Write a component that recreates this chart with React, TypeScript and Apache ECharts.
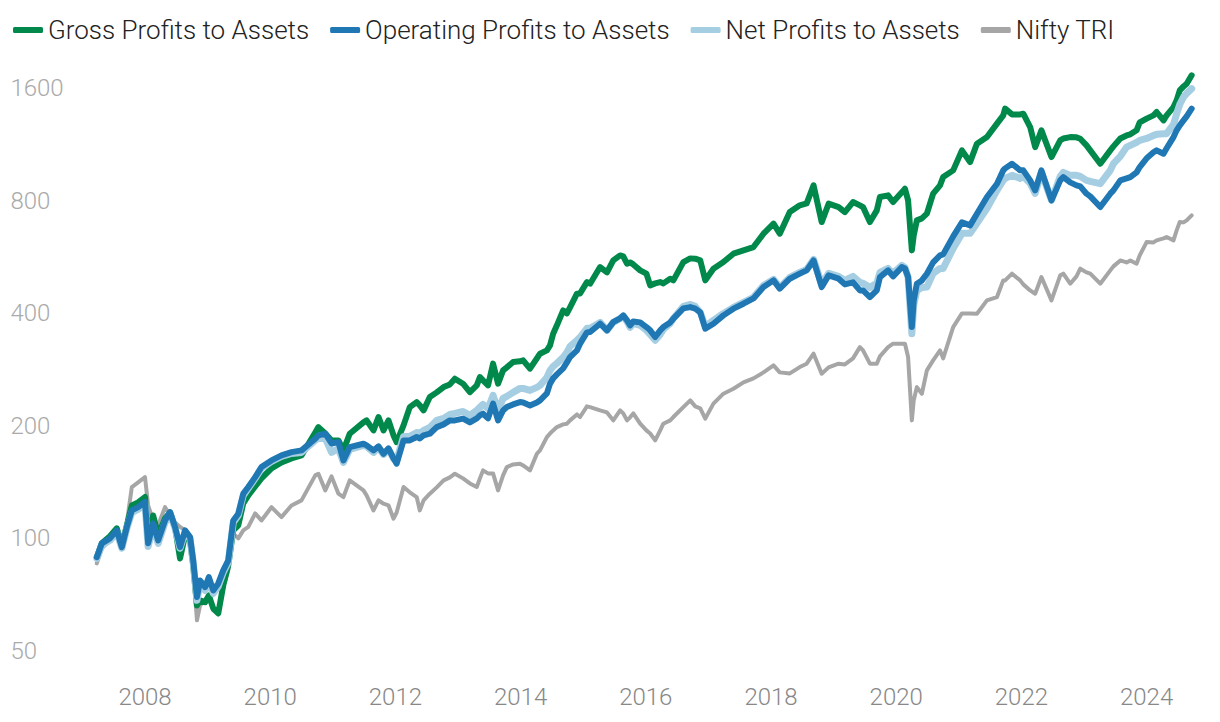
import React, { useEffect, useRef } from "react";
import * as echarts from "echarts";

const years = [2007.23, 2007.31, 2007.44, 2007.55, 2007.63, 2007.71, 2007.79, 2007.89, 2008.00, 2008.05, 2008.13, 2008.21, 2008.32, 2008.40, 2008.48, 2008.56, 2008.64, 2008.72, 2008.77, 2008.83, 2008.88, 2008.96, 2009.02, 2009.09, 2009.17, 2009.25, 2009.33, 2009.41, 2009.49, 2009.57, 2009.65, 2009.76, 2009.86, 2010.02, 2010.18, 2010.34, 2010.50, 2010.72, 2010.77, 2010.88, 2010.98, 2011.09, 2011.17, 2011.27, 2011.49, 2011.54, 2011.65, 2011.73, 2011.81, 2011.89, 2011.97, 2012.02, 2012.13, 2012.23, 2012.34, 2012.39, 2012.45, 2012.55, 2012.66, 2012.77, 2012.87, 2012.95, 2013.08, 2013.19, 2013.30, 2013.35, 2013.40, 2013.48, 2013.56, 2013.64, 2013.72, 2013.78, 2013.88, 2013.99, 2014.04, 2014.15, 2014.26, 2014.31, 2014.42, 2014.47, 2014.52, 2014.58, 2014.68, 2014.74, 2014.79, 2014.90, 2014.95, 2015.06, 2015.11, 2015.27, 2015.38, 2015.48, 2015.59, 2015.64, 2015.70, 2015.75, 2015.80, 2015.91, 2016.01, 2016.07, 2016.15, 2016.23, 2016.28, 2016.39, 2016.44, 2016.60, 2016.71, 2016.79, 2016.87, 2016.95, 2017.08, 2017.24, 2017.40, 2017.56, 2017.72, 2017.88, 2018.04, 2018.14, 2018.30, 2018.46, 2018.57, 2018.68, 2018.81, 2018.92, 2019.08, 2019.18, 2019.31, 2019.42, 2019.47, 2019.58, 2019.69, 2019.74, 2019.87, 2019.95, 2020.09, 2020.14, 2020.19, 2020.25, 2020.28, 2020.33, 2020.41, 2020.49, 2020.59, 2020.70, 2020.75, 2020.91, 2021.05, 2021.18, 2021.29, 2021.45, 2021.61, 2021.71, 2021.74, 2021.85, 2021.98, 2022.03, 2022.14, 2022.22, 2022.32, 2022.48, 2022.62, 2022.67, 2022.78, 2022.88, 2022.94, 2023.04, 2023.10, 2023.26, 2023.42, 2023.47, 2023.58, 2023.68, 2023.74, 2023.84, 2023.89, 2024.00, 2024.11, 2024.16, 2024.27, 2024.32, 2024.43, 2024.48, 2024.53, 2024.59, 2024.64, 2024.72];

const gross = [
  89.1, 97.0, 101.3, 106.4, 95.8, 108.4, 122.5, 124.8, 129.0, 98.8,
  115.2, 101.9, 113.1, 117.3, 107.1, 88.4, 101.9, 98.8, 84.7, 66.2,
  68.3, 67.5, 70.4, 65.0, 63.0, 74.9, 84.7, 105.1, 108.4, 124.1,
  130.3, 137.8, 144.7, 153.9, 159.6, 163.6, 166.7, 192.0, 198.4, 190.8,
  182.8, 182.8, 171.9, 190.5, 204.3, 206.8, 194.4, 211.1, 194.4, 206.8,
  188.5, 180.9, 200.5, 224.4, 231.5, 226.8, 219.9, 238.7, 245.7, 253.8,
  258.1, 267.3, 259.2, 246.1, 256.5, 270.0, 264.5, 256.5, 293.2, 259.2,
  281.3, 286.6, 296.1, 297.4, 299.2, 284.3, 302.9, 311.8, 318.2, 328.2,
  352.6, 371.2, 407.0, 399.5, 414.6, 451.0, 451.9, 484.5, 479.7, 531.4,
  514.3, 553.7, 571.0, 567.5, 542.5, 546.9, 540.2, 520.7, 510.2, 474.7,
  480.6, 484.5, 480.6, 494.7, 489.6, 548.0, 560.6, 559.5, 553.7, 489.6,
  526.2, 548.0, 577.0, 588.9, 601.0, 652.6, 694.1, 652.6, 745.6, 777.0,
  786.5, 878.8, 701.0, 785.0, 768.9, 745.6, 792.9, 777.0, 768.9, 701.0,
  753.4, 817.7, 826.3, 792.9, 841.7, 861.0, 801.2, 588.9, 645.9, 708.4,
  717.2, 738.2, 834.9, 878.8, 924.9, 963.7, 1090, 1014, 1136, 1183,
  1285, 1352, 1409, 1360, 1360, 1366, 1258, 1112, 1233, 1046,
  1159, 1173, 1183, 1181, 1171, 1124, 1090, 1004, 1090, 1117,
  1173, 1195, 1203, 1233, 1295, 1325, 1352, 1380, 1311, 1352,
  1423, 1483, 1577, 1616, 1643, 1730,
];

const operating = [
  89.1, 97.0, 100, 105.1, 94.8, 107.3, 118.8, 121.2, 125.1, 97.0,
  109.7, 98.8, 111.7, 117.6, 107.3, 94.8, 105.1, 100.8, 87.3, 69.7,
  77.2, 74.1, 78.8, 72.6, 75.8, 82.1, 87.3, 111.7, 116.4, 131.7,
  137.2, 145.8, 155.1, 161.6, 166.7, 170.1, 171.9, 184.7, 188.5, 190.5,
  179.4, 180.9, 161.6, 175.4, 179.1, 177.3, 171.9, 176.2, 168.4, 174.0,
  163.6, 158.4, 182.8, 182.8, 186.6, 185.1, 188.5, 190.5, 198.4, 201.8,
  206.8, 206.8, 209.0, 204.3, 209.4, 213.3, 215.5, 209.4, 229.2, 206.8,
  219.9, 224.4, 228.2, 231.5, 231.0, 226.8, 231.0, 233.9, 244.1, 259.2,
  267.8, 274.4, 284.8, 295.5, 305.4, 318.2, 331.6, 355.5, 356.2, 375.0,
  359.9, 378.7, 387.4, 394.7, 382.7, 371.2, 380.3, 378.0, 367.3, 359.9,
  345.4, 359.9, 367.3, 378.0, 386.7, 412.0, 415.4, 411.3, 402.0, 363.7,
  375.0, 394.7, 411.3, 424.1, 438.2, 469.8, 489.6, 465.2, 494.7, 510.2,
  520.7, 553.7, 469.8, 504.9, 494.7, 477.7, 483.6, 460.3, 460.3, 441.8,
  460.3, 499.7, 520.7, 501.8, 531.4, 527.1, 499.7, 367.3, 432.9, 479.7,
  489.6, 510.2, 546.9, 571.0, 574.5, 642.0, 699.7, 686.9, 738.2, 817.7,
  887.9, 963.7, 975.7, 1004, 963.7, 963.7, 906.2, 852.1, 963.7, 801.2,
  906.2, 924.9, 895.1, 878.8, 873.4, 834.9, 821.2, 768.9, 834.9, 852.1,
  906.2, 917.4, 924.9, 951.9, 983.6, 1038, 1077, 1090, 1068, 1104,
  1183, 1233, 1271, 1311, 1344, 1409,
];

const net = [
  88.4, 95.8, 98.8, 103.8, 94.1, 106.4, 117.3, 119.5, 123.3, 95.2,
  107.7, 97.0, 110.3, 116.6, 106.4, 94.1, 103.8, 100, 86.2, 68.3,
  75.8, 72.6, 77.2, 71.3, 74.4, 81.1, 86.2, 110.3, 115.2, 130.3,
  136.1, 144.7, 153.9, 160.6, 165.7, 168.7, 169.8, 182.8, 185.1, 185.1,
  169.8, 174.0, 159.6, 173.0, 177.3, 176.2, 169.8, 175.1, 167.7, 173.0,
  163.6, 161.6, 187.4, 187.4, 192.0, 190.8, 194.4, 198.0, 206.8, 209.4,
  214.5, 215.9, 218.5, 213.3, 219.9, 224.0, 228.2, 222.6, 241.2, 219.9,
  236.8, 239.7, 245.7, 251.8, 251.8, 248.7, 253.4, 256.5, 269.4, 281.3,
  288.3, 293.7, 304.8, 314.3, 326.2, 338.4, 344.7, 364.4, 364.4, 378.0,
  359.9, 378.0, 387.4, 392.3, 380.3, 366.6, 375.7, 371.2, 359.9, 351.1,
  338.4, 351.1, 362.1, 375.7, 387.4, 417.2, 422.3, 417.2, 402.0, 368.9,
  382.7, 399.5, 414.6, 427.6, 441.0, 474.7, 492.6, 468.9, 498.8, 514.3,
  523.9, 557.1, 477.7, 511.1, 501.8, 489.6, 501.8, 483.6, 480.6, 468.9,
  480.6, 514.3, 527.1, 511.1, 537.0, 530.4, 498.8, 352.6, 419.7, 460.3,
  468.9, 469.8, 511.1, 527.1, 527.1, 596.2, 653.9, 653.9, 695.4, 762.7,
  852.1, 906.2, 917.4, 934.6, 917.4, 928.9, 889.6, 836.5, 951.9, 801.2,
  928.9, 951.9, 934.6, 934.6, 928.9, 906.2, 900.6, 887.9, 963.7, 1004,
  1051, 1112, 1124, 1145, 1159, 1173, 1195, 1203, 1208, 1208,
  1279, 1366, 1447, 1513, 1548, 1594,
];

const nifty = [
  85.7, 94.1, 98.8, 103.8, 94.1, 110.3, 137.2, 141.2, 145.8, 122.5,
  111.7, 108.4, 121.2, 115.2, 110.3, 107.3, 105.1, 98.8, 82.1, 60.4,
  66.2, 68.3, 70.4, 64.2, 63.0, 74.1, 82.1, 103.0, 100, 105.1,
  107.3, 116.6, 111.7, 121.2, 114.0, 122.5, 126.4, 147.4, 148.9, 134.4,
  146.5, 131.7, 129.0, 142.9, 134.4, 130.3, 118.8, 126.4, 123.8, 122.5,
  112.9, 117.3, 137.2, 132.8, 129.0, 118.8, 126.4, 131.7, 136.9, 142.9,
  145.6, 148.9, 144.7, 140.3, 137.2, 144.7, 152.0, 149.2, 149.2, 134.4,
  147.4, 155.1, 157.7, 158.4, 156.7, 152.0, 168.4, 171.9, 186.6, 190.8,
  194.4, 198.4, 201.8, 202.6, 206.8, 214.5, 211.1, 225.4, 224.4, 219.9,
  217.2, 206.8, 219.9, 215.9, 206.8, 210.7, 215.9, 202.6, 194.4, 190.8,
  182.8, 194.4, 202.6, 206.8, 211.1, 224.4, 233.9, 225.4, 222.6, 209.0,
  229.2, 243.7, 251.3, 261.3, 267.8, 277.9, 290.1, 277.9, 276.1, 287.1,
  293.2, 311.8, 275.6, 286.6, 293.2, 291.9, 302.9, 324.7, 318.2, 293.2,
  293.2, 306.7, 324.7, 331.6, 331.6, 331.6, 305.4, 206.8, 233.9, 253.8,
  243.7, 281.3, 299.2, 318.2, 302.9, 367.3, 399.5, 399.5, 398.8, 432.9,
  441.8, 489.6, 489.6, 510.2, 489.6, 477.7, 460.3, 451.0, 499.7, 432.9,
  504.9, 510.2, 479.7, 501.8, 526.2, 514.3, 510.2, 479.7, 520.7, 533.7,
  553.7, 546.9, 553.7, 542.5, 571.0, 619.8, 618.6, 626.3, 634.1, 639.2,
  626.3, 666.1, 701.0, 699.7, 708.4, 730.6,
];

const seriesNames = ["Gross Profits to Assets", "Operating Profits to Assets", "Net Profits to Assets", "Nifty TRI"];
const yTickBase = 50; // lowest tick label; ticks double: 50, 100, 200, 400, 800, 1600

const FONT = "Roboto, 'Noto Sans', sans-serif";

export default function App() {
  const ref = useRef<HTMLDivElement>(null);
  useEffect(() => {
    if (!ref.current) return;
    const chart = echarts.init(ref.current, null, { renderer: "svg" });
    const toPts = (vals: number[]) => years.map((y, i) => [y, Math.log2(vals[i] / yTickBase)]);
    const mk = (name: string, vals: number[], color: string, width: number) => ({
      name,
      type: "line",
      data: toPts(vals),
      showSymbol: false,
      symbol: "none",
      color,
      itemStyle: { color },
      lineStyle: { color, width, cap: "round", join: "round" },
      emphasis: { disabled: true },
    });
    chart.setOption({
      animation: false,
      backgroundColor: "#ffffff",
      textStyle: { fontFamily: FONT },
      legend: {
        data: seriesNames,
        left: 8,
        top: 12,
        icon: "roundRect",
        itemWidth: 30,
        itemHeight: 6,
        itemGap: 21,
        textStyle: {
          fontSize: 26,
          color: "#222222",
          fontFamily: FONT,
          fontWeight: 300,
        },
      },
      grid: { left: 82.4, right: 10.8, top: 65.5, bottom: 71 },
      xAxis: {
        type: "value",
        min: 2007,
        max: 2025,
        interval: 1,
        axisLine: { show: false },
        axisTick: { show: false },
        splitLine: { show: false },
        axisLabel: {
          fontSize: 24,
          color: "#888888",
          fontFamily: FONT,
          fontWeight: 300,
          margin: 34,
          formatter: (v: number) => (Math.round(v) % 2 === 0 ? String(Math.round(v)) : ""),
        },
      },
      yAxis: {
        type: "value",
        min: 0,
        max: 5.2,
        interval: 1,
        axisLine: { show: false },
        axisTick: { show: false },
        splitLine: { show: false },
        axisLabel: {
          fontSize: 24,
          color: "#aaaaaa",
          fontFamily: FONT,
          fontWeight: 300,
          align: "left",
          margin: 72,
          formatter: (v: number) =>
            Math.abs(v - Math.round(v)) < 1e-6 ? String(yTickBase * Math.pow(2, Math.round(v))) : "",
        },
      },
      series: [
        mk("Nifty TRI", nifty, "#a6a6a6", 4),
        mk("Gross Profits to Assets", gross, "#00894a", 6),
        mk("Net Profits to Assets", net, "#a6cee3", 7),
        mk("Operating Profits to Assets", operating, "#1f77b4", 6),
      ],
    });
    return () => chart.dispose();
  }, []);
  return (
    <div
      ref={ref}
      style={{ position: "fixed", left: 0, top: 0, width: 1220, height: 722, background: "#fff" }}
    />
  );
}
